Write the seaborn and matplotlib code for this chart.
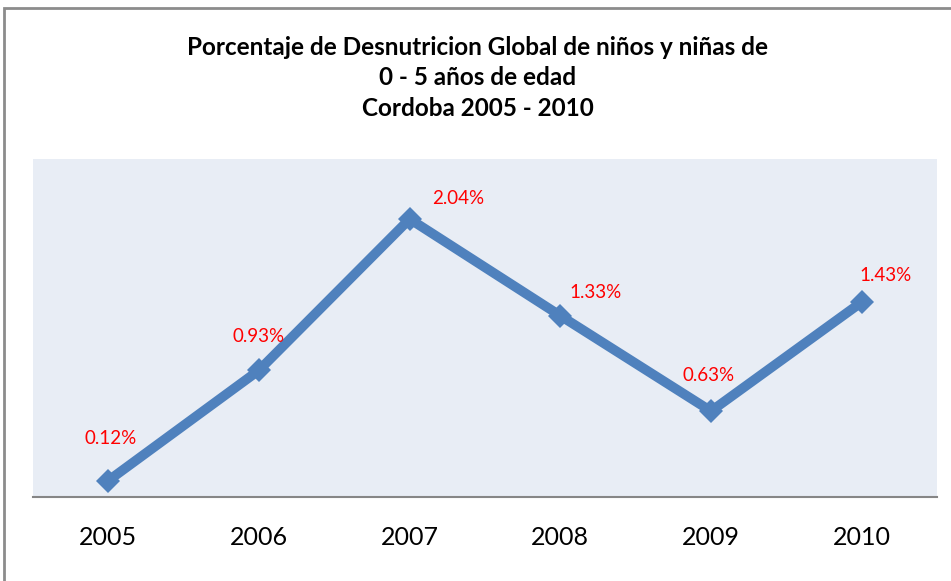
import matplotlib
matplotlib.use('Agg')
import matplotlib.pyplot as plt
import seaborn as sns
import pandas as pd
from matplotlib.patches import Rectangle

# data
years = ['2005', '2006', '2007', '2008', '2009', '2010']
porcentaje = [0.12, 0.93, 2.04, 1.33, 0.63, 1.43]
etiquetas = ['0.12%', '0.93%', '2.04%', '1.33%', '0.63%', '1.43%']

# label offsets in points (layout only)
offsets = [(2, 30), (0, 24), (35, 15), (25, 17), (-2, 26), (17, 19)]

sns.set_theme(style='white')
plt.rcParams['font.family'] = ['Lato', 'DejaVu Sans']

df = pd.DataFrame({'year': years, 'pct': porcentaje})
df['pos'] = range(len(years))

fig = plt.figure(figsize=(9.51, 5.81), dpi=100)
ax = fig.add_axes([0.0347, 0.1446, 0.9506, 0.5817])

sns.lineplot(data=df, x='pos', y='pct', ax=ax, color='#4F81BD', linewidth=7,
             marker='D', markersize=12, markeredgewidth=0,
             markerfacecolor='#4F81BD')

for i, (v, lab) in enumerate(zip(porcentaje, etiquetas)):
    ax.annotate(lab, (i, v), xytext=offsets[i], textcoords='offset points',
                ha='center', va='center', color='#FF0000', fontsize=13.5)

ax.set_facecolor('#E8EDF5')
ax.set_xlim(-0.5, 5.5)
ax.set_ylim(0, 2.48)
ax.set_xticks(range(len(years)))
ax.set_xticklabels(years, fontsize=18, color='black')
ax.set_yticks([])
ax.set_xlabel('')
ax.set_ylabel('')
ax.tick_params(axis='x', length=0, pad=21)
for s in ['top', 'right', 'left']:
    ax.spines[s].set_visible(False)
ax.spines['bottom'].set_color('#868686')
ax.spines['bottom'].set_linewidth(1.5)

fig.text(0.502, 0.866,
         'Porcentaje de Desnutricion Global de niños y niñas de\n'
         '0 - 5 años de edad\nCordoba 2005 - 2010',
         ha='center', va='center', fontsize=17.5, fontweight='bold',
         color='black', linespacing=1.38)

# outer chart border
fig.patches.append(Rectangle((0.0045, -0.01), 1.2, 0.996,
                             transform=fig.transFigure, fill=False,
                             edgecolor='#8C8C8C', linewidth=2))

fig.savefig('out.png', dpi=100)
